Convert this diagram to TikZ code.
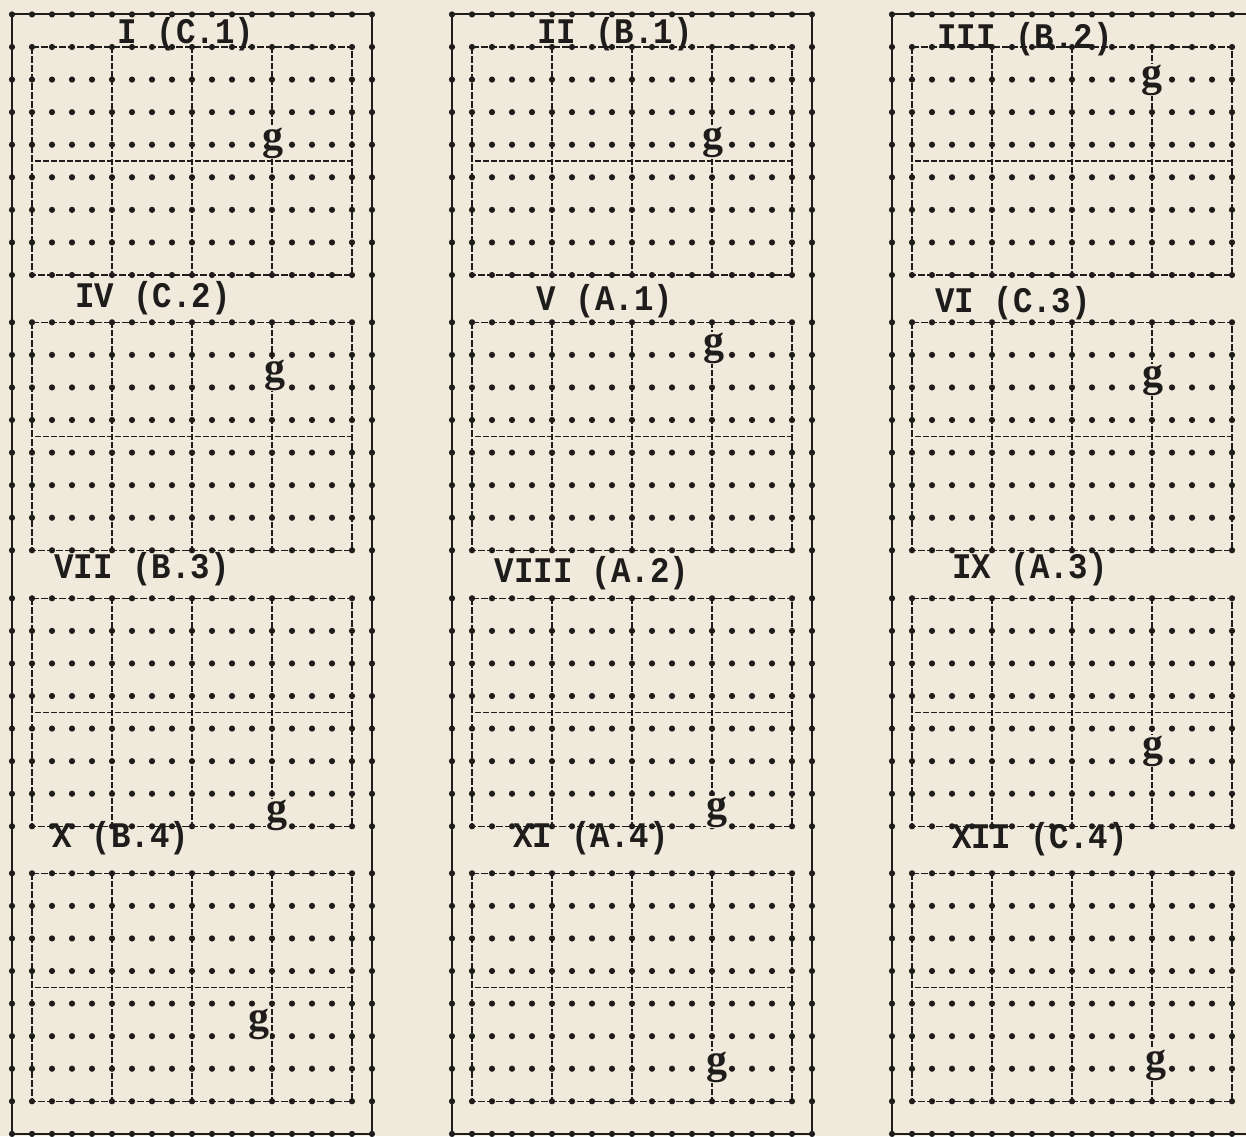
\documentclass[tikz,border=0pt]{standalone}
\usepackage{fontspec}
\newfontfamily\typewriter[FakeStretch=0.9]{Liberation Mono}
\newfontfamily\typeg{Liberation Serif}
\usepackage{tikz}
\usetikzlibrary{positioning}
\definecolor{PaperCream}{HTML}{F0EADC}
\definecolor{InkDark}{HTML}{1F1D1B}

\begin{document}
\begin{tikzpicture}[x=1pt,y=-1pt,
    frameline/.style={draw=InkDark, line width=2pt},
    edgeline/.style={draw=InkDark, line width=1.4pt, dash pattern=on 7pt off 2pt},
    gridline/.style={draw=InkDark, line width=1.2pt, dash pattern=on 6pt off 2pt},
    plabel/.style={font=\typewriter\bfseries\fontsize{36}{40}\selectfont,
      text=InkDark, inner sep=0pt, anchor=base},
    gmark/.style={font=\typeg\bfseries\fontsize{42}{44}\selectfont,
      text=InkDark, fill=PaperCream, inner sep=0.3pt}]

  \fill[PaperCream] (0,0) rectangle (1246,1136);
  \useasboundingbox (0,0) rectangle (1246,1136);
  \clip (0,0) rectangle (1246,1136);

  % three typed columns
  \foreach \cx in {0,440,880}{
    \draw[frameline] (\cx+12,14.4) rectangle (\cx+372,1133.9);
    \foreach \i in {-1,...,17}{
      \fill[InkDark] (\cx+32+20*\i,14.4) circle (3.1pt);
      \fill[InkDark] (\cx+32+20*\i,1133.9) circle (3.1pt);
    }
    % four dot panels per column
    \foreach \py in {47,322.3,598.3,873.3}{
      \draw[edgeline] (\cx+32,\py) rectangle (\cx+352,\py+228);
      \foreach \i in {4,8,12}
        \draw[gridline] (\cx+32+20*\i,\py) -- (\cx+32+20*\i,\py+228);
      \draw[gridline] (\cx+35,\py+114) -- (\cx+352,\py+114);
      \foreach \j in {0,...,7}
        \foreach \i in {-1,...,17}
          \fill[InkDark] (\cx+32+20*\i,\py+32.57*\j) circle (3.1pt);
    }
  }

  % panel labels
  \node[plabel] (lblI)    at (186,43)   {I (C.1)};
  \node[plabel] (lblII)   at (615,43)   {II (B.1)};
  \node[plabel] (lblIII)  at (1025,48)  {III (B.2)};
  \node[plabel] (lblIV)   at (153,307)  {IV (C.2)};
  \node[plabel] (lblV)    at (605,310)  {V (A.1)};
  \node[plabel] (lblVI)   at (1013,312) {VI (C.3)};
  \node[plabel] (lblVII)  at (142,578)  {VII (B.3)};
  \node[plabel] (lblVIII) at (592,582)  {VIII (A.2)};
  \node[plabel] (lblIX)   at (1030,578) {IX (A.3)};
  \node[plabel] (lblX)    at (121,847)  {X (B.4)};
  \node[plabel] (lblXI)   at (591,847)  {XI (A.4)};
  \node[plabel] (lblXII)  at (1040,848) {XII (C.4)};

  % the g marks
  \node[gmark] (gI)    at (273,143)  {g};
  \node[gmark] (gII)   at (713,142)  {g};
  \node[gmark] (gIII)  at (1152,80)  {g};
  \node[gmark] (gIV)   at (275,375)  {g};
  \node[gmark] (gV)    at (714,348)  {g};
  \node[gmark] (gVI)   at (1153,380) {g};
  \node[gmark] (gVII)  at (277,815)  {g};
  \node[gmark] (gVIII) at (717,812)  {g};
  \node[gmark] (gIX)   at (1153,751) {g};
  \node[gmark] (gX)    at (259,1024) {g};
  \node[gmark] (gXI)   at (717,1067) {g};
  \node[gmark] (gXII)  at (1156,1065) {g};
\end{tikzpicture}
\end{document}
